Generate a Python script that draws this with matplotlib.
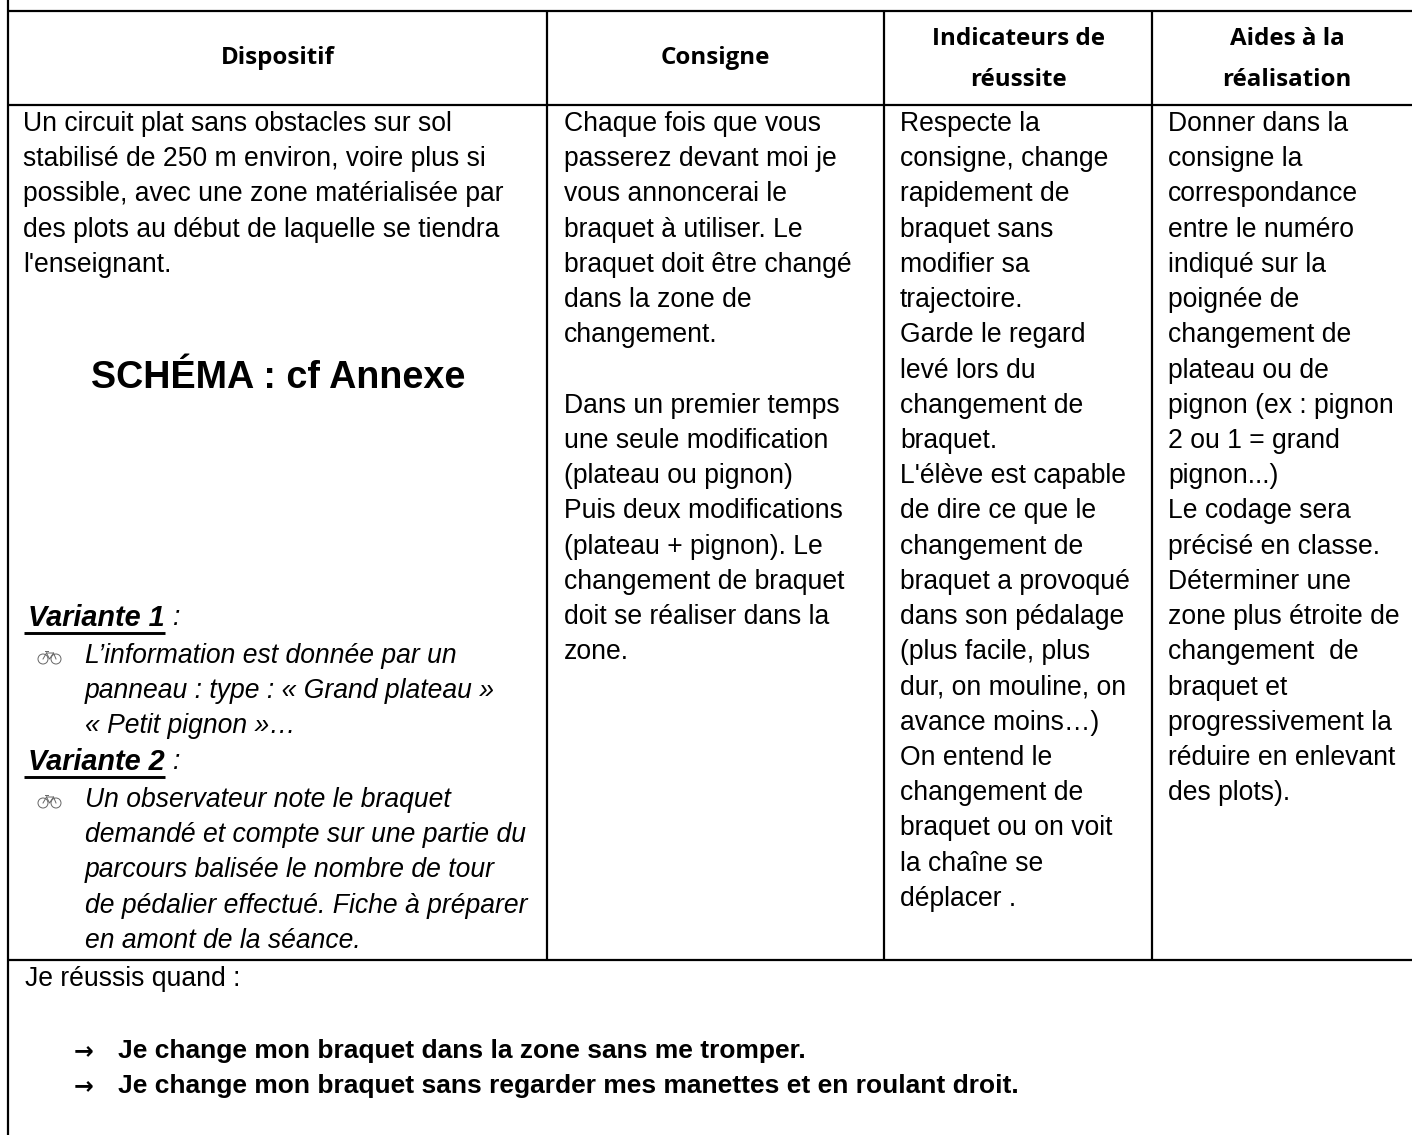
"""Rebuild the French lesson sheet table as text and rules on a pixel grid."""

import matplotlib

matplotlib.use("Agg")
import matplotlib.pyplot as plt
from matplotlib.patches import Circle

WIDTH, HEIGHT = 1412, 1135
BODY_FONT = ["Liberation Sans", "DejaVu Sans"]
HEAD_FONT = ["Open Sans", "DejaVu Sans"]

COLUMN_EDGES = [8, 547, 884, 1152, 1412]
ROW_EDGES = [11, 105, 960]

HEADERS = [
    ["Dispositif"],
    ["Consigne"],
    ["Indicateurs de", "réussite"],
    ["Aides à la", "réalisation"],
]
HEADER_CENTRES = [278, 715, 1018, 1287]

DISPOSITIF = [
    "Un circuit plat sans obstacles sur sol",
    "stabilisé de 250 m environ, voire plus si",
    "possible, avec une zone matérialisée par",
    "des plots au début de laquelle se tiendra",
    "l'enseignant.",
]
SCHEMA = "SCHÉMA : cf Annexe"
VARIANTE_1 = [
    "L’information est donnée par un",
    "panneau : type : « Grand plateau »",
    "« Petit pignon »…",
]
VARIANTE_2 = [
    "Un observateur note le braquet",
    "demandé et compte sur une partie du",
    "parcours balisée le nombre de tour",
    "de pédalier effectué. Fiche à préparer",
    "en amont de la séance.",
]
CONSIGNE = [
    "Chaque fois que vous",
    "passerez devant moi je",
    "vous annoncerai le",
    "braquet à utiliser. Le",
    "braquet doit être changé",
    "dans la zone de",
    "changement.",
    "",
    "Dans un premier temps",
    "une seule modification",
    "(plateau ou pignon)",
    "Puis deux modifications",
    "(plateau + pignon). Le",
    "changement de braquet",
    "doit se réaliser dans la",
    "zone.",
]
INDICATEURS = [
    "Respecte la",
    "consigne, change",
    "rapidement de",
    "braquet sans",
    "modifier sa",
    "trajectoire.",
    "Garde le regard",
    "levé lors du",
    "changement de",
    "braquet.",
    "L'élève est capable",
    "de dire ce que le",
    "changement de",
    "braquet a provoqué",
    "dans son pédalage",
    "(plus facile, plus",
    "dur, on mouline, on",
    "avance moins…)",
    "On entend le",
    "changement de",
    "braquet ou on voit",
    "la chaîne se",
    "déplacer .",
]
AIDES = [
    "Donner dans la",
    "consigne la",
    "correspondance",
    "entre le numéro",
    "indiqué sur la",
    "poignée de",
    "changement de",
    "plateau ou de",
    "pignon (ex : pignon",
    "2 ou 1 = grand",
    "pignon...)",
    "Le codage sera",
    "précisé en classe.",
    "Déterminer une",
    "zone plus étroite de",
    "changement  de",
    "braquet et",
    "progressivement la",
    "réduire en enlevant",
    "des plots).",
]
REUSSITE_INTRO = "Je réussis quand :"
REUSSITE_ITEMS = [
    "Je change mon braquet dans la zone sans me tromper.",
    "Je change mon braquet sans regarder mes manettes et en roulant droit.",
]

BODY_SIZE = 19.1
LINE_STEP = 35.22
FIRST_LINE = 124


def put_lines(ax, x, y0, lines, **kwargs):
    for i, line in enumerate(lines):
        ax.text(x, y0 + i * LINE_STEP, line, va="center", ha="left",
                family=BODY_FONT, fontsize=BODY_SIZE, color="black", **kwargs)


def draw_bike(ax, x, y):
    # small grey bicycle bullet
    grey = "#666666"
    for dx in (-6.5, 6.5):
        ax.add_patch(Circle((x + dx, y + 2), 5, fill=False, ec=grey, lw=0.7))
    ax.plot([x - 6.5, x - 3, x + 4, x + 6.5], [y + 2, y - 4, y - 4, y + 2], color=grey, lw=0.7)
    ax.plot([x - 3, x, x + 4], [y - 4, y + 2, y - 4], color=grey, lw=0.7)
    ax.plot([x - 5, x - 2], [y - 6, y - 6], color=grey, lw=0.7)


def main():
    fig = plt.figure(figsize=(WIDTH / 100, HEIGHT / 100), dpi=100)
    ax = fig.add_axes([0, 0, 1, 1])
    ax.set_xlim(0, WIDTH)
    ax.set_ylim(HEIGHT, 0)
    ax.axis("off")

    rule = {"color": "black", "lw": 1.6, "solid_capstyle": "butt"}
    ax.plot([COLUMN_EDGES[0], COLUMN_EDGES[0]], [0, HEIGHT], **rule)
    for y in ROW_EDGES:
        ax.plot([COLUMN_EDGES[0], WIDTH], [y, y], **rule)
    for x in COLUMN_EDGES[1:4]:
        ax.plot([x, x], [ROW_EDGES[0], ROW_EDGES[2]], **rule)

    # header row, Calibri-like bold
    for centre, lines in zip(HEADER_CENTRES, HEADERS):
        ys = [58] if len(lines) == 1 else [39, 80.5]
        for y, line in zip(ys, lines):
            ax.text(centre, y, line, ha="center", va="center", family=HEAD_FONT,
                    fontsize=17.4, fontweight="bold", color="black")

    put_lines(ax, 23, FIRST_LINE, DISPOSITIF)
    put_lines(ax, 564, FIRST_LINE, CONSIGNE)
    put_lines(ax, 900, FIRST_LINE, INDICATEURS)
    put_lines(ax, 1168, FIRST_LINE, AIDES)

    ax.text(278, 378, SCHEMA, ha="center", va="center", family=BODY_FONT,
            fontsize=27.2, fontweight="bold")

    # variants block
    for y, word in ((618, "Variante 1"), (762, "Variante 2")):
        ax.text(28, y, word, va="center", family=BODY_FONT, fontsize=20.8,
                fontweight="bold", fontstyle="italic")
        ax.plot([24, 165], [y + 15, y + 15], color="black", lw=2.1, solid_capstyle="butt")
        ax.text(173, y, ":", va="center", family=BODY_FONT, fontsize=BODY_SIZE,
                fontstyle="italic")
    put_lines(ax, 85, 656, VARIANTE_1, fontstyle="italic")
    put_lines(ax, 85, 800, VARIANTE_2, fontstyle="italic")
    draw_bike(ax, 49.5, 657)
    draw_bike(ax, 49.5, 801)

    # bottom block
    ax.text(25, 979, REUSSITE_INTRO, va="center", family=BODY_FONT, fontsize=BODY_SIZE)
    for y, item in zip((1051, 1086), REUSSITE_ITEMS):
        ax.text(74, y, "→", va="center", family=["DejaVu Sans"], fontsize=17,
                fontweight="bold")
        ax.text(118, y, item, va="center", family=BODY_FONT, fontsize=19,
                fontweight="bold")

    fig.savefig("out.png", dpi=100)
    plt.close("all")


if __name__ == "__main__":
    main()
